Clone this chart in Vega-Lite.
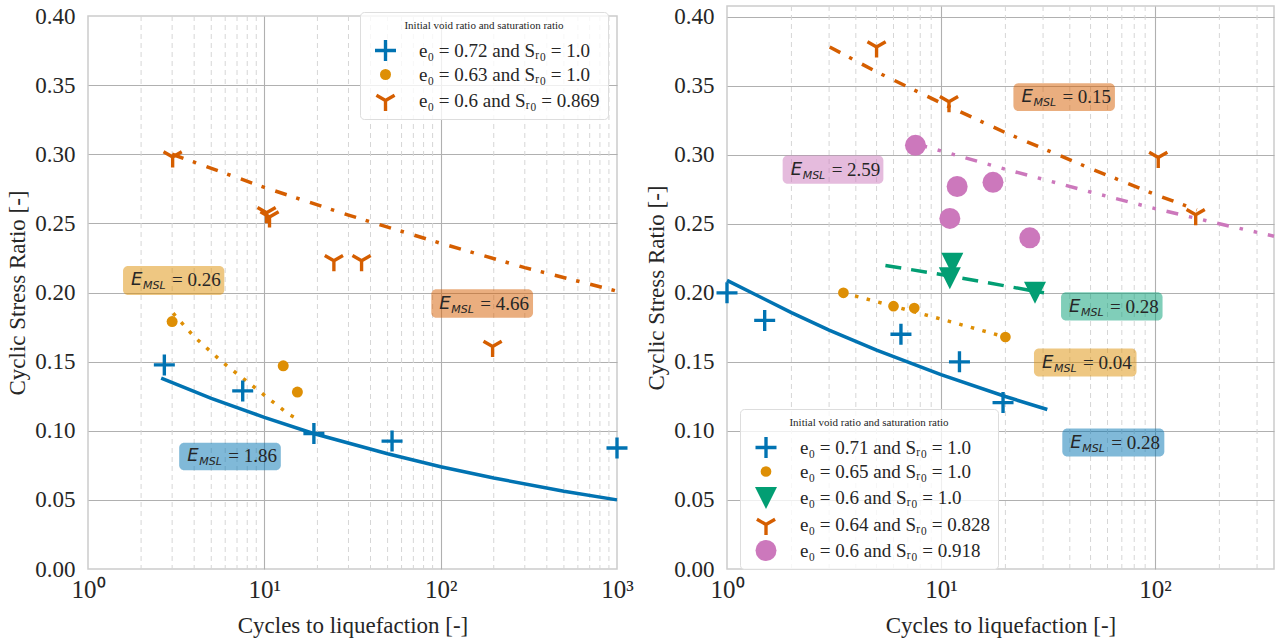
{
  "$schema": "https://vega.github.io/schema/vega-lite/v6.json",
  "background": "white",
  "padding": {"left": 6, "top": 3, "right": 0, "bottom": 0},
  "spacing": 11,
  "bounds": "full",
  "resolve": {"scale": {"color": "independent", "shape": "independent", "size": "independent", "fill": "independent"}, "legend": {"color": "independent", "shape": "independent"}},
  "config": {
    "view": {"stroke": "#cccccc", "strokeWidth": 1.5},
    "font": "Liberation Serif",
    "axis": {"labelFont": "Liberation Serif", "labelFontSize": 23, "labelColor": "#262626", "titleFont": "Liberation Serif", "titleFontSize": 23, "titleFontWeight": "normal", "titleColor": "#262626", "ticks": false, "domain": false, "gridColor": "#b0b0b0", "gridWidth": 1.1, "labelFlush": false, "labelOverlap": false},
    "axisX": {"labelFontSize": 25, "labelPadding": 8, "titlePadding": 12},
    "axisY": {"labelPadding": 13, "titlePadding": 5}
  },
  "hconcat": [
    {
      "spacing": 9,
      "bounds": "flush",
      "vconcat": [
        {
          "width": 529,
          "height": 1,
          "data": {"values": [{"k": 0}]},
          "mark": {"type": "point", "opacity": 0},
          "view": {"stroke": null}
        },
        {
          "width": 529,
          "height": 553,
          "layer": [
            {
              "data": {"values": [{"x": 2}, {"x": 3}, {"x": 4}, {"x": 5}, {"x": 6}, {"x": 7}, {"x": 8}, {"x": 9}, {"x": 20}, {"x": 30}, {"x": 40}, {"x": 50}, {"x": 60}, {"x": 70}, {"x": 80}, {"x": 90}, {"x": 200}, {"x": 300}, {"x": 400}, {"x": 500}, {"x": 600}, {"x": 700}, {"x": 800}, {"x": 900}]},
              "mark": {"type": "rule", "color": "#d6d6d6", "strokeDash": [5, 4], "strokeWidth": 1},
              "encoding": {
                "x": {"field": "x", "type": "quantitative", "scale": {"type": "log", "domain": [1, 1000], "nice": false},
                  "axis": {"values": [1, 10, 100, 1000], "labelFont": "Liberation Serif", "titleFont": "Liberation Serif", "labelExpr": "'10' + (datum.value == 1 ? '⁰' : datum.value == 10 ? '¹' : datum.value == 100 ? '²' : '³')", "title": "Cycles to liquefaction [-]", "grid": true, "gridColor": {"condition": {"test": "datum.value == 1 || datum.value == 1000", "value": "transparent"}, "value": "#b0b0b0"}}}
              }
            },
            {
              "data": {"name": "annL", "values": [
                {"x1": 1.58, "x2": 5.93, "y1": 0.1982, "y2": 0.2192, "ym": 0.2087, "label": "= 0.26", "c": "orange"},
                {"x1": 88.5, "x2": 334, "y1": 0.1818, "y2": 0.2023, "ym": 0.192, "label": "= 4.66", "c": "vermilion"},
                {"x1": 3.29, "x2": 12.4, "y1": 0.0714, "y2": 0.0914, "ym": 0.0814, "label": "= 1.86", "c": "blue"}
              ]},
              "mark": {"type": "rect", "cornerRadius": 5, "fillOpacity": 0.5},
              "encoding": {
                "x": {"field": "x1", "type": "quantitative", "scale": {"type": "log", "domain": [1, 1000], "nice": false}},
                "x2": {"field": "x2"},
                "y": {"field": "y1", "type": "quantitative", "scale": {"domain": [0, 0.4], "nice": false}},
                "y2": {"field": "y2"},
                "fill": {"field": "c", "type": "nominal", "scale": {"domain": ["blue", "orange", "green", "vermilion", "pink"], "range": ["#0173b2", "#de8f05", "#029e73", "#d55e00", "#cc78bc"]}, "legend": null}
              }
            },
            {
              "data": {"values": [{"x": 2.6, "y": 0.138}, {"x": 5, "y": 0.1234}, {"x": 10, "y": 0.1097}, {"x": 19, "y": 0.098}, {"x": 50, "y": 0.0834}, {"x": 100, "y": 0.074}, {"x": 200, "y": 0.0658}, {"x": 500, "y": 0.0563}, {"x": 1000, "y": 0.05}]},
              "mark": {"type": "line", "color": "#0173b2", "strokeWidth": 3.5},
              "encoding": {
                "x": {"field": "x", "type": "quantitative", "scale": {"type": "log", "domain": [1, 1000], "nice": false}},
                "y": {"field": "y", "type": "quantitative", "scale": {"domain": [0, 0.4], "nice": false}}
              }
            },
            {
              "data": {"values": [{"x": 3.04, "y": 0.185}, {"x": 4.0, "y": 0.168}, {"x": 5.86, "y": 0.149}, {"x": 9.5, "y": 0.128}, {"x": 13.7, "y": 0.112}, {"x": 15.7, "y": 0.108}]},
              "mark": {"type": "line", "color": "#de8f05", "strokeWidth": 3.5, "strokeDash": [3.5, 8.5]},
              "encoding": {
                "x": {"field": "x", "type": "quantitative", "scale": {"type": "log", "domain": [1, 1000], "nice": false}},
                "y": {"field": "y", "type": "quantitative", "scale": {"domain": [0, 0.4], "nice": false}}
              }
            },
            {
              "data": {"values": [{"x": 3, "y": 0.3}, {"x": 10, "y": 0.276}, {"x": 30, "y": 0.256}, {"x": 100, "y": 0.2356}, {"x": 300, "y": 0.218}, {"x": 1000, "y": 0.201}]},
              "mark": {"type": "line", "color": "#d55e00", "strokeWidth": 3.5, "strokeDash": [12, 10, 3.5, 11]},
              "encoding": {
                "x": {"field": "x", "type": "quantitative", "scale": {"type": "log", "domain": [1, 1000], "nice": false}},
                "y": {"field": "y", "type": "quantitative", "scale": {"domain": [0, 0.4], "nice": false}}
              }
            },
            {
              "data": {"values": [
                {"series": "e₀ = 0.72 and Sᵣ₀ = 1.0", "x": 2.71, "y": 0.1476},
                {"series": "e₀ = 0.72 and Sᵣ₀ = 1.0", "x": 7.54, "y": 0.1288},
                {"series": "e₀ = 0.72 and Sᵣ₀ = 1.0", "x": 19.1, "y": 0.098},
                {"series": "e₀ = 0.72 and Sᵣ₀ = 1.0", "x": 53, "y": 0.0925},
                {"series": "e₀ = 0.72 and Sᵣ₀ = 1.0", "x": 1000, "y": 0.0875},
                {"series": "e₀ = 0.63 and Sᵣ₀ = 1.0", "x": 3.0, "y": 0.179},
                {"series": "e₀ = 0.63 and Sᵣ₀ = 1.0", "x": 12.8, "y": 0.147},
                {"series": "e₀ = 0.63 and Sᵣ₀ = 1.0", "x": 15.4, "y": 0.128},
                {"series": "e₀ = 0.6 and Sᵣ₀ = 0.869", "x": 3.02, "y": 0.298},
                {"series": "e₀ = 0.6 and Sᵣ₀ = 0.869", "x": 10.3, "y": 0.2577},
                {"series": "e₀ = 0.6 and Sᵣ₀ = 0.869", "x": 10.7, "y": 0.2546},
                {"series": "e₀ = 0.6 and Sᵣ₀ = 0.869", "x": 24.8, "y": 0.223},
                {"series": "e₀ = 0.6 and Sᵣ₀ = 0.869", "x": 35.6, "y": 0.223},
                {"series": "e₀ = 0.6 and Sᵣ₀ = 0.869", "x": 197, "y": 0.161}
              ]},
              "mark": {"type": "point", "filled": true, "opacity": 1},
              "encoding": {
                "x": {"field": "x", "type": "quantitative", "scale": {"type": "log", "domain": [1, 1000], "nice": false}},
                "y": {"field": "y", "type": "quantitative", "scale": {"domain": [0, 0.4], "nice": false},
                  "axis": {"values": [0, 0.05, 0.1, 0.15, 0.2, 0.25, 0.3, 0.35, 0.4], "labelFont": "Liberation Serif", "titleFont": "Liberation Serif", "format": ".2f", "title": "Cyclic Stress Ratio [-]", "grid": true, "gridColor": {"condition": {"test": "datum.value == 0 || datum.value >= 0.4", "value": "transparent"}, "value": "#b0b0b0"}}},
                "color": {"field": "series", "type": "nominal",
                  "scale": {"domain": ["e₀ = 0.72 and Sᵣ₀ = 1.0", "e₀ = 0.63 and Sᵣ₀ = 1.0", "e₀ = 0.6 and Sᵣ₀ = 0.869"], "range": ["#0173b2", "#de8f05", "#d55e00"]},
                  "legend": {"title": "Initial void ratio and saturation ratio", "orient": "none", "legendX": 272, "legendY": 6, "titleFont": "Liberation Serif", "titleFontSize": 11, "titleFontWeight": "normal", "titleColor": "#262626", "titleAnchor": "middle", "titleAlign": "center", "titlePadding": 8, "labelFont": "Liberation Serif", "labelFontSize": 19, "labelColor": "#262626", "labelLimit": 400, "labelOffset": 22, "rowPadding": 4, "padding": 8, "fillColor": "rgba(255,255,255,0.8)", "strokeColor": "#dddddd", "cornerRadius": 4, "symbolOffset": 6,
                    "encode": {"symbols": {"update": {"size": {"signal": "[289, 81, 220][datum.index]"}}}}}},
                "shape": {"field": "series", "type": "nominal",
                  "scale": {"domain": ["e₀ = 0.72 and Sᵣ₀ = 1.0", "e₀ = 0.63 and Sᵣ₀ = 1.0", "e₀ = 0.6 and Sᵣ₀ = 0.869"], "range": ["M-1,-0.16H-0.16V-1H0.16V-0.16H1V0.16H0.16V1H-0.16V0.16H-1Z", "circle", "M0.16,0.092L0.16,1L-0.16,1L-0.16,0.092L-0.946,-0.361L-0.786,-0.639L0,-0.185L0.786,-0.639L0.946,-0.361Z"]}},
                "size": {"field": "series", "type": "nominal",
                  "scale": {"type": "ordinal", "domain": ["e₀ = 0.72 and Sᵣ₀ = 1.0", "e₀ = 0.63 and Sᵣ₀ = 1.0", "e₀ = 0.6 and Sᵣ₀ = 0.869"], "range": [441, 121, 441]}, "legend": null}
              }
            },
            {
              "data": {"name": "annL"},
              "mark": {"type": "text", "text": "E", "font": "DejaVu Sans", "fontStyle": "italic", "fontSize": 18, "align": "left", "baseline": "middle", "dx": 8, "color": "#262626"},
              "encoding": {
                "x": {"field": "x1", "type": "quantitative", "scale": {"type": "log", "domain": [1, 1000], "nice": false}},
                "y": {"field": "ym", "type": "quantitative", "scale": {"domain": [0, 0.4], "nice": false}}
              }
            },
            {
              "data": {"name": "annL"},
              "mark": {"type": "text", "text": "MSL", "font": "DejaVu Sans", "fontStyle": "italic", "fontSize": 11, "align": "left", "baseline": "middle", "dx": 20, "dy": 6, "color": "#262626"},
              "encoding": {
                "x": {"field": "x1", "type": "quantitative", "scale": {"type": "log", "domain": [1, 1000], "nice": false}},
                "y": {"field": "ym", "type": "quantitative", "scale": {"domain": [0, 0.4], "nice": false}}
              }
            },
            {
              "data": {"name": "annL"},
              "mark": {"type": "text", "font": "Liberation Serif", "fontSize": 19, "align": "left", "baseline": "middle", "dx": 49, "color": "#262626"},
              "encoding": {
                "x": {"field": "x1", "type": "quantitative", "scale": {"type": "log", "domain": [1, 1000], "nice": false}},
                "y": {"field": "ym", "type": "quantitative", "scale": {"domain": [0, 0.4], "nice": false}},
                "text": {"field": "label"}
              }
            }
          ]
        }
      ]
    },
    {
      "width": 547,
      "height": 563,
      "layer": [
        {
          "data": {"values": [{"x": 2}, {"x": 3}, {"x": 4}, {"x": 5}, {"x": 6}, {"x": 7}, {"x": 8}, {"x": 9}, {"x": 20}, {"x": 30}, {"x": 40}, {"x": 50}, {"x": 60}, {"x": 70}, {"x": 80}, {"x": 90}, {"x": 200}, {"x": 300}]},
          "mark": {"type": "rule", "color": "#d6d6d6", "strokeDash": [5, 4], "strokeWidth": 1},
          "encoding": {
            "x": {"field": "x", "type": "quantitative", "scale": {"type": "log", "domain": [1, 360], "nice": false},
              "axis": {"values": [1, 10, 100], "labelFont": "Liberation Serif", "titleFont": "Liberation Serif", "labelExpr": "'10' + (datum.value == 1 ? '⁰' : datum.value == 10 ? '¹' : '²')", "title": "Cycles to liquefaction [-]", "grid": true, "gridColor": {"condition": {"test": "datum.value == 1", "value": "transparent"}, "value": "#b0b0b0"}}}
          }
        },
        {
          "data": {"name": "annR", "values": [
            {"x1": 21.8, "x2": 65, "y1": 0.3316, "y2": 0.3517, "ym": 0.3416, "label": "= 0.15", "c": "vermilion"},
            {"x1": 1.82, "x2": 5.38, "y1": 0.279, "y2": 0.2995, "ym": 0.289, "label": "= 2.59", "c": "pink"},
            {"x1": 36.4, "x2": 108.5, "y1": 0.18, "y2": 0.2005, "ym": 0.19, "label": "= 0.28", "c": "green"},
            {"x1": 27.2, "x2": 82, "y1": 0.1394, "y2": 0.1597, "ym": 0.1495, "label": "= 0.04", "c": "orange"},
            {"x1": 36.9, "x2": 110.6, "y1": 0.0814, "y2": 0.1017, "ym": 0.0915, "label": "= 0.28", "c": "blue"}
          ]},
          "mark": {"type": "rect", "cornerRadius": 5, "fillOpacity": 0.5},
          "encoding": {
            "x": {"field": "x1", "type": "quantitative", "scale": {"type": "log", "domain": [1, 360], "nice": false}},
            "x2": {"field": "x2"},
            "y": {"field": "y1", "type": "quantitative", "scale": {"domain": [0, 0.4077], "nice": false}},
            "y2": {"field": "y2"},
            "fill": {"field": "c", "type": "nominal", "scale": {"domain": ["blue", "orange", "green", "vermilion", "pink"], "range": ["#0173b2", "#de8f05", "#029e73", "#d55e00", "#cc78bc"]}, "legend": null}
          }
        },
        {
          "data": {"values": [{"x": 1, "y": 0.209}, {"x": 2, "y": 0.1857}, {"x": 3, "y": 0.173}, {"x": 5, "y": 0.1585}, {"x": 10, "y": 0.1407}, {"x": 20, "y": 0.1249}, {"x": 31.4, "y": 0.1155}]},
          "mark": {"type": "line", "color": "#0173b2", "strokeWidth": 3.5},
          "encoding": {
            "x": {"field": "x", "type": "quantitative", "scale": {"type": "log", "domain": [1, 360], "nice": false}},
            "y": {"field": "y", "type": "quantitative", "scale": {"domain": [0, 0.4077], "nice": false}}
          }
        },
        {
          "data": {"values": [{"x": 3.5, "y": 0.2}, {"x": 6, "y": 0.1903}, {"x": 10, "y": 0.181}, {"x": 20, "y": 0.168}]},
          "mark": {"type": "line", "color": "#de8f05", "strokeWidth": 3.5, "strokeDash": [3.5, 8.5]},
          "encoding": {
            "x": {"field": "x", "type": "quantitative", "scale": {"type": "log", "domain": [1, 360], "nice": false}},
            "y": {"field": "y", "type": "quantitative", "scale": {"domain": [0, 0.4077], "nice": false}}
          }
        },
        {
          "data": {"values": [{"x": 5.5, "y": 0.2198}, {"x": 10, "y": 0.2133}, {"x": 30.3, "y": 0.2}]},
          "mark": {"type": "line", "color": "#029e73", "strokeWidth": 3.5, "strokeDash": [16, 10]},
          "encoding": {
            "x": {"field": "x", "type": "quantitative", "scale": {"type": "log", "domain": [1, 360], "nice": false}},
            "y": {"field": "y", "type": "quantitative", "scale": {"domain": [0, 0.4077], "nice": false}}
          }
        },
        {
          "data": {"values": [{"x": 3.02, "y": 0.378}, {"x": 5, "y": 0.36}, {"x": 10, "y": 0.3375}, {"x": 20, "y": 0.316}, {"x": 50, "y": 0.29}, {"x": 100, "y": 0.2713}, {"x": 157, "y": 0.26}]},
          "mark": {"type": "line", "color": "#d55e00", "strokeWidth": 3.5, "strokeDash": [12, 10, 3.5, 11]},
          "encoding": {
            "x": {"field": "x", "type": "quantitative", "scale": {"type": "log", "domain": [1, 360], "nice": false}},
            "y": {"field": "y", "type": "quantitative", "scale": {"domain": [0, 0.4077], "nice": false}}
          }
        },
        {
          "data": {"values": [{"x": 7.6, "y": 0.308}, {"x": 20, "y": 0.2895}, {"x": 50, "y": 0.273}, {"x": 100, "y": 0.261}, {"x": 200, "y": 0.25}, {"x": 360, "y": 0.241}]},
          "mark": {"type": "line", "color": "#cc78bc", "strokeWidth": 3.5, "strokeDash": [12, 11, 3.5, 11, 3.5, 11]},
          "encoding": {
            "x": {"field": "x", "type": "quantitative", "scale": {"type": "log", "domain": [1, 360], "nice": false}},
            "y": {"field": "y", "type": "quantitative", "scale": {"domain": [0, 0.4077], "nice": false}}
          }
        },
        {
          "data": {"values": [
            {"series": "e₀ = 0.71 and Sᵣ₀ = 1.0", "x": 1.0, "y": 0.2},
            {"series": "e₀ = 0.71 and Sᵣ₀ = 1.0", "x": 1.5, "y": 0.18},
            {"series": "e₀ = 0.71 and Sᵣ₀ = 1.0", "x": 6.5, "y": 0.17},
            {"series": "e₀ = 0.71 and Sᵣ₀ = 1.0", "x": 12.2, "y": 0.15},
            {"series": "e₀ = 0.71 and Sᵣ₀ = 1.0", "x": 19.5, "y": 0.1205},
            {"series": "e₀ = 0.65 and Sᵣ₀ = 1.0", "x": 3.5, "y": 0.2},
            {"series": "e₀ = 0.65 and Sᵣ₀ = 1.0", "x": 6.0, "y": 0.1903},
            {"series": "e₀ = 0.65 and Sᵣ₀ = 1.0", "x": 7.5, "y": 0.189},
            {"series": "e₀ = 0.65 and Sᵣ₀ = 1.0", "x": 20.0, "y": 0.168},
            {"series": "e₀ = 0.6 and Sᵣ₀ = 1.0", "x": 11.3, "y": 0.221},
            {"series": "e₀ = 0.6 and Sᵣ₀ = 1.0", "x": 11.0, "y": 0.2105},
            {"series": "e₀ = 0.6 and Sᵣ₀ = 1.0", "x": 27.5, "y": 0.2},
            {"series": "e₀ = 0.64 and Sᵣ₀ = 0.828", "x": 5.0, "y": 0.378},
            {"series": "e₀ = 0.64 and Sᵣ₀ = 0.828", "x": 10.9, "y": 0.3384},
            {"series": "e₀ = 0.64 and Sᵣ₀ = 0.828", "x": 103.6, "y": 0.298},
            {"series": "e₀ = 0.64 and Sᵣ₀ = 0.828", "x": 155, "y": 0.2565},
            {"series": "e₀ = 0.6 and Sᵣ₀ = 0.918", "x": 7.6, "y": 0.3068},
            {"series": "e₀ = 0.6 and Sᵣ₀ = 0.918", "x": 11.9, "y": 0.277},
            {"series": "e₀ = 0.6 and Sᵣ₀ = 0.918", "x": 17.5, "y": 0.28},
            {"series": "e₀ = 0.6 and Sᵣ₀ = 0.918", "x": 11.0, "y": 0.2539},
            {"series": "e₀ = 0.6 and Sᵣ₀ = 0.918", "x": 26.0, "y": 0.2398}
          ]},
          "mark": {"type": "point", "filled": true, "opacity": 1},
          "encoding": {
            "x": {"field": "x", "type": "quantitative", "scale": {"type": "log", "domain": [1, 360], "nice": false}},
            "y": {"field": "y", "type": "quantitative", "scale": {"domain": [0, 0.4077], "nice": false},
              "axis": {"values": [0, 0.05, 0.1, 0.15, 0.2, 0.25, 0.3, 0.35, 0.4], "labelFont": "Liberation Serif", "titleFont": "Liberation Serif", "format": ".2f", "title": "Cyclic Stress Ratio [-]", "grid": true, "gridColor": {"condition": {"test": "datum.value == 0", "value": "transparent"}, "value": "#b0b0b0"}}},
            "color": {"field": "series", "type": "nominal",
              "scale": {"domain": ["e₀ = 0.71 and Sᵣ₀ = 1.0", "e₀ = 0.65 and Sᵣ₀ = 1.0", "e₀ = 0.6 and Sᵣ₀ = 1.0", "e₀ = 0.64 and Sᵣ₀ = 0.828", "e₀ = 0.6 and Sᵣ₀ = 0.918"], "range": ["#0173b2", "#de8f05", "#029e73", "#d55e00", "#cc78bc"]},
              "legend": {"title": "Initial void ratio and saturation ratio", "orient": "none", "legendX": 13, "legendY": 403, "titleFont": "Liberation Serif", "titleFontSize": 11, "titleFontWeight": "normal", "titleColor": "#262626", "titleAnchor": "middle", "titleAlign": "center", "titlePadding": 8, "labelFont": "Liberation Serif", "labelFontSize": 19, "labelColor": "#262626", "labelLimit": 400, "labelOffset": 22, "rowPadding": 4, "padding": 8, "fillColor": "rgba(255,255,255,0.8)", "strokeColor": "#dddddd", "cornerRadius": 4, "symbolOffset": 6,
                "encode": {"symbols": {"update": {"size": {"signal": "[256, 64, 225, 220, 272][datum.index]"}}}}}},
            "shape": {"field": "series", "type": "nominal",
              "scale": {"domain": ["e₀ = 0.71 and Sᵣ₀ = 1.0", "e₀ = 0.65 and Sᵣ₀ = 1.0", "e₀ = 0.6 and Sᵣ₀ = 1.0", "e₀ = 0.64 and Sᵣ₀ = 0.828", "e₀ = 0.6 and Sᵣ₀ = 0.918"], "range": ["M-1,-0.16H-0.16V-1H0.16V-0.16H1V0.16H0.16V1H-0.16V0.16H-1Z", "circle", "M-1,-1L1,-1L0,1Z", "M0.16,0.092L0.16,1L-0.16,1L-0.16,0.092L-0.946,-0.361L-0.786,-0.639L0,-0.185L0.786,-0.639L0.946,-0.361Z", "circle"]}},
            "size": {"field": "series", "type": "nominal",
              "scale": {"type": "ordinal", "domain": ["e₀ = 0.71 and Sᵣ₀ = 1.0", "e₀ = 0.65 and Sᵣ₀ = 1.0", "e₀ = 0.6 and Sᵣ₀ = 1.0", "e₀ = 0.64 and Sᵣ₀ = 0.828", "e₀ = 0.6 and Sᵣ₀ = 0.918"], "range": [441, 115, 484, 441, 441]}, "legend": null}
          }
        },
        {
          "data": {"name": "annR"},
          "mark": {"type": "text", "text": "E", "font": "DejaVu Sans", "fontStyle": "italic", "fontSize": 18, "align": "left", "baseline": "middle", "dx": 8, "color": "#262626"},
          "encoding": {
            "x": {"field": "x1", "type": "quantitative", "scale": {"type": "log", "domain": [1, 360], "nice": false}},
            "y": {"field": "ym", "type": "quantitative", "scale": {"domain": [0, 0.4077], "nice": false}}
          }
        },
        {
          "data": {"name": "annR"},
          "mark": {"type": "text", "text": "MSL", "font": "DejaVu Sans", "fontStyle": "italic", "fontSize": 11, "align": "left", "baseline": "middle", "dx": 20, "dy": 6, "color": "#262626"},
          "encoding": {
            "x": {"field": "x1", "type": "quantitative", "scale": {"type": "log", "domain": [1, 360], "nice": false}},
            "y": {"field": "ym", "type": "quantitative", "scale": {"domain": [0, 0.4077], "nice": false}}
          }
        },
        {
          "data": {"name": "annR"},
          "mark": {"type": "text", "font": "Liberation Serif", "fontSize": 19, "align": "left", "baseline": "middle", "dx": 49, "color": "#262626"},
          "encoding": {
            "x": {"field": "x1", "type": "quantitative", "scale": {"type": "log", "domain": [1, 360], "nice": false}},
            "y": {"field": "ym", "type": "quantitative", "scale": {"domain": [0, 0.4077], "nice": false}},
            "text": {"field": "label"}
          }
        }
      ]
    }
  ]
}
